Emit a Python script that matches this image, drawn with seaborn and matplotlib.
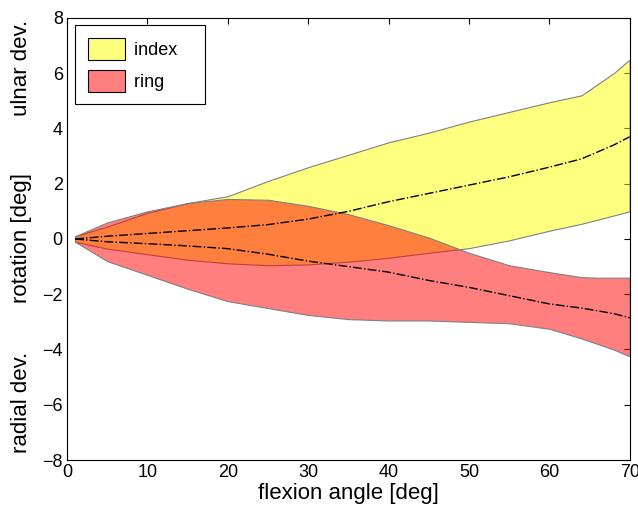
import matplotlib
matplotlib.use("Agg")
import matplotlib.pyplot as plt
from matplotlib.patches import Patch
import seaborn as sns
import pandas as pd

# flexion angle samples
angle = [1, 5, 10, 15, 20, 25, 30, 35, 40, 45, 50, 55, 60, 64, 66, 68, 70]

# index finger band and mean
index_upper = [0.1, 0.45, 0.95, 1.3, 1.55, 2.1, 2.6, 3.05, 3.5, 3.85, 4.25, 4.6, 4.95, 5.2, 5.6, 6.0, 6.5]
index_lower = [-0.1, -0.35, -0.55, -0.75, -0.88, -0.95, -0.92, -0.82, -0.68, -0.5, -0.33, -0.05, 0.3, 0.55, 0.7, 0.85, 1.0]
index_mean = [0, 0.1, 0.2, 0.3, 0.4, 0.52, 0.72, 1.0, 1.35, 1.65, 1.95, 2.25, 2.6, 2.9, 3.15, 3.4, 3.7]

# ring finger band and mean
ring_upper = [0.1, 0.6, 1.0, 1.3, 1.45, 1.42, 1.2, 0.9, 0.5, 0.05, -0.5, -0.95, -1.2, -1.38, -1.4, -1.4, -1.4]
ring_lower = [-0.1, -0.8, -1.3, -1.8, -2.25, -2.5, -2.75, -2.9, -2.95, -2.95, -3.0, -3.05, -3.25, -3.6, -3.8, -4.0, -4.25]
ring_mean = [0, -0.1, -0.17, -0.25, -0.35, -0.55, -0.8, -1.0, -1.2, -1.5, -1.75, -2.05, -2.35, -2.5, -2.6, -2.7, -2.85]

labels = ["index", "ring"]

sns.set_style("white")
plt.rcParams['font.family'] = ['Liberation Sans', 'DejaVu Sans']
plt.rcParams['font.size'] = 13
plt.rcParams['text.color'] = 'black'
plt.rcParams['xtick.color'] = 'black'
plt.rcParams['ytick.color'] = 'black'
plt.rcParams['axes.labelcolor'] = 'black'

df = pd.DataFrame({"angle": angle, "index": index_mean, "ring": ring_mean})

fig = plt.figure(figsize=(6.38, 5.11), dpi=100)
ax = fig.add_axes([0.105, 0.0998, 0.882, 0.865])

yellow = (1, 1, 0, 0.5)
red = (1, 0, 0, 0.5)
ax.fill_between(angle, index_lower, index_upper, facecolor=yellow, edgecolor="0.5", linewidth=0.8)
ax.fill_between(angle, ring_lower, ring_upper, facecolor=red, edgecolor="0.5", linewidth=0.8)

sns.lineplot(data=df, x="angle", y="index", ax=ax, color="black", linestyle="-.", linewidth=1, legend=False)
sns.lineplot(data=df, x="angle", y="ring", ax=ax, color="black", linestyle="-.", linewidth=1, legend=False)

ax.set_xlim(0, 70)
ax.set_ylim(-8, 8)
ax.set_xticks(range(0, 71, 10))
ax.set_yticks(range(-8, 9, 2))
ax.tick_params(direction="in", length=4, width=0.8, top=True, right=True, labelsize=13, pad=3,
               colors="black")
for s in ax.spines.values():
    s.set_color("black")
    s.set_linewidth(0.8)

ax.set_xlabel("flexion angle [deg]", fontsize=16, labelpad=1)
ax.set_ylabel("")

# three-part y label
fig.text(22 / 638, 1 - 68 / 511, "ulnar dev.", rotation=90, ha="center", va="center", fontsize=16)
fig.text(22 / 638, 1 - 238 / 511, "rotation [deg]", rotation=90, ha="center", va="center", fontsize=16)
fig.text(22 / 638, 1 - 402 / 511, "radial dev.", rotation=90, ha="center", va="center", fontsize=16)

# trailing spaces widen the legend box like the reference
handles = [Patch(facecolor=yellow, edgecolor="black", linewidth=0.8),
           Patch(facecolor=red, edgecolor="black", linewidth=0.8)]
leg = ax.legend(handles, [lab + "   " for lab in labels], loc="upper left",
                bbox_to_anchor=(0.014, 0.984),
                fancybox=False, framealpha=1, edgecolor="black", fontsize=13,
                handlelength=2.1, handleheight=1.5, borderpad=0.7, labelspacing=0.55,
                handletextpad=0.5, borderaxespad=0)
leg.get_frame().set_linewidth(0.8)

fig.savefig("out.png", dpi=100)
